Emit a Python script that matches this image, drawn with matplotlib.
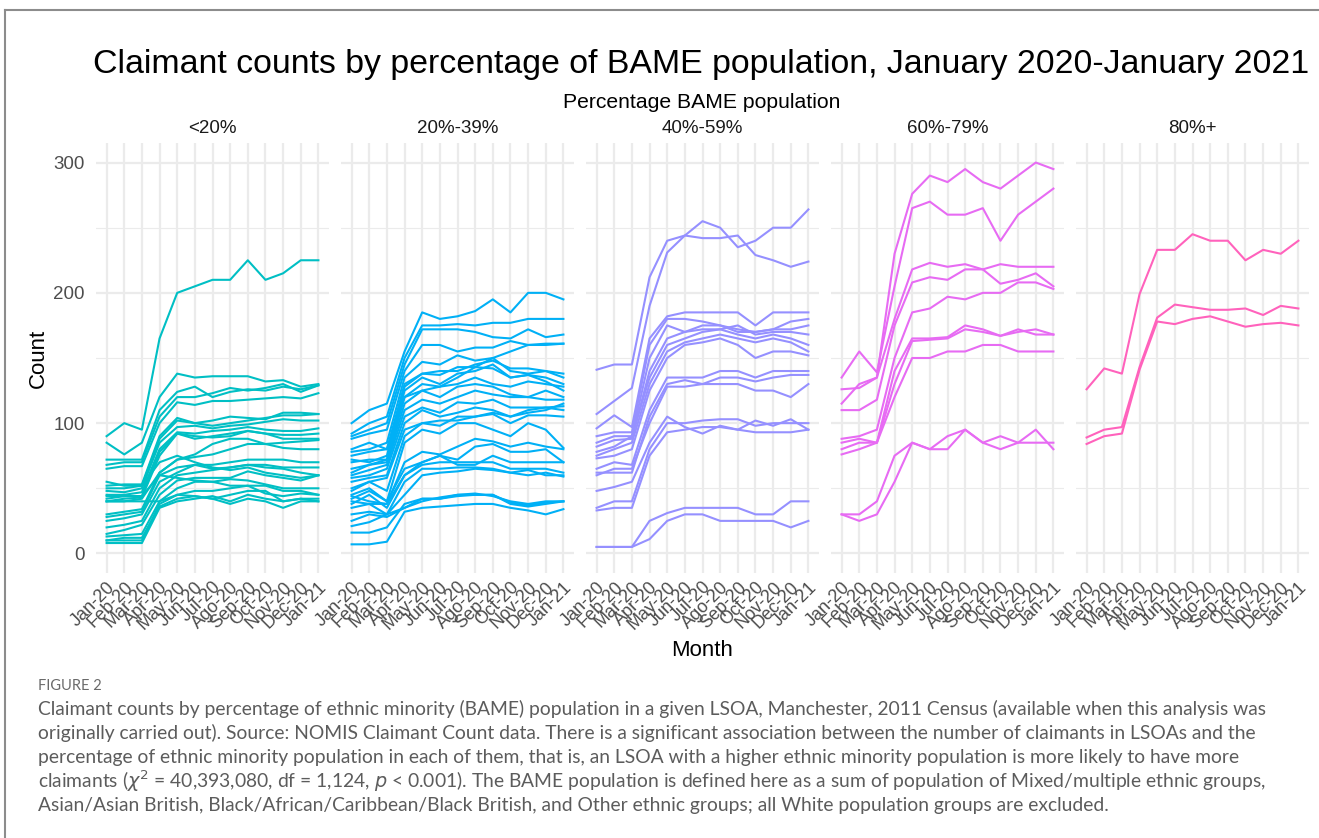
import matplotlib.pyplot as plt
from matplotlib.lines import Line2D

plt.rcParams["font.family"] = ["Liberation Sans", "DejaVu Sans"]

months = ["Jan-20", "Feb-20", "Mar-20", "Apr-20", "May-20", "Jun-20", "Jul-20",
          "Ago-20", "Sep-20", "Oct-20", "Nov-20", "Dec-20", "Jan-21"]
groups = ["<20%", "20%-39%", "40%-59%", "60%-79%", "80%+"]
colors = ["#00BFC4", "#00B0F6", "#9590FF", "#E76BF3", "#FF62BC"]

# claimant counts per LSOA, one list per LSOA, Jan-20 .. Jan-21
under20 = [
    [90, 100, 95, 165, 200, 205, 210, 210, 225, 210, 215, 225, 225],
    [85, 76, 85, 120, 138, 135, 136, 136, 136, 132, 133, 128, 130],
    [72, 72, 72, 110, 124, 128, 120, 124, 126, 125, 128, 126, 129],
    [68, 70, 70, 105, 120, 120, 123, 127, 125, 127, 130, 124, 129],
    [65, 67, 67, 100, 116, 114, 117, 117, 118, 119, 120, 119, 123],
    [52, 53, 53, 90, 104, 100, 102, 105, 104, 103, 108, 108, 107],
    [50, 50, 52, 88, 102, 100, 98, 100, 102, 104, 106, 106, 107],
    [48, 47, 50, 85, 97, 98, 96, 98, 99, 101, 103, 102, 102],
    [45, 45, 47, 80, 93, 92, 94, 95, 97, 95, 94, 94, 96],
    [42, 44, 44, 78, 92, 90, 89, 90, 94, 92, 91, 91, 92],
    [40, 42, 43, 75, 92, 88, 90, 92, 94, 92, 88, 88, 88],
    [40, 40, 42, 62, 72, 76, 84, 88, 88, 84, 81, 80, 80],
    [30, 32, 34, 62, 72, 74, 76, 80, 84, 84, 85, 86, 87],
    [28, 30, 32, 60, 66, 68, 68, 70, 72, 72, 72, 70, 70],
    [25, 27, 30, 55, 62, 68, 65, 66, 68, 68, 66, 66, 66],
    [20, 22, 25, 50, 60, 62, 64, 66, 68, 66, 65, 62, 60],
    [15, 18, 22, 45, 56, 58, 58, 58, 63, 60, 58, 56, 60],
    [13, 14, 15, 40, 50, 55, 55, 57, 56, 53, 50, 50, 50],
    [10, 10, 10, 38, 45, 48, 48, 50, 52, 46, 44, 46, 45],
    [8, 8, 8, 35, 40, 42, 44, 40, 45, 42, 40, 42, 42],
    [10, 12, 12, 36, 42, 44, 42, 45, 48, 48, 40, 42, 40],
    [40, 40, 40, 40, 45, 44, 42, 38, 42, 40, 35, 40, 40],
    [44, 44, 44, 60, 58, 56, 55, 52, 52, 52, 48, 48, 45],
    [55, 52, 52, 70, 75, 70, 66, 64, 66, 62, 60, 58, 60],
]

pct20_39 = [
    [100, 110, 115, 155, 185, 180, 182, 186, 195, 185, 200, 200, 195],
    [92, 100, 105, 150, 175, 175, 176, 175, 177, 177, 180, 180, 180],
    [90, 95, 100, 145, 172, 172, 172, 170, 166, 165, 172, 166, 168],
    [88, 92, 95, 140, 160, 160, 155, 158, 158, 163, 160, 161, 161],
    [80, 85, 80, 120, 125, 128, 135, 143, 150, 155, 160, 160, 161],
    [78, 80, 85, 135, 147, 145, 152, 148, 150, 140, 138, 140, 138],
    [75, 78, 80, 130, 138, 140, 140, 145, 148, 142, 142, 140, 135],
    [72, 70, 75, 128, 138, 137, 143, 143, 142, 135, 137, 135, 130],
    [70, 72, 72, 125, 135, 130, 138, 140, 145, 135, 137, 132, 125],
    [65, 68, 72, 120, 130, 128, 130, 135, 130, 128, 132, 130, 128],
    [62, 68, 70, 115, 125, 120, 128, 130, 128, 122, 120, 125, 120],
    [60, 64, 68, 110, 118, 115, 120, 125, 122, 120, 120, 118, 118],
    [58, 60, 65, 105, 112, 108, 116, 115, 118, 112, 112, 112, 110],
    [55, 58, 60, 100, 110, 105, 108, 112, 110, 105, 110, 112, 113],
    [50, 55, 58, 95, 100, 98, 105, 105, 108, 105, 108, 110, 115],
    [48, 55, 48, 90, 100, 102, 102, 105, 107, 100, 106, 106, 105],
    [45, 50, 40, 85, 95, 92, 100, 100, 95, 90, 100, 95, 81],
    [44, 40, 38, 70, 78, 76, 82, 88, 86, 82, 85, 82, 80],
    [42, 48, 40, 65, 70, 75, 72, 82, 84, 78, 78, 80, 70],
    [40, 38, 38, 60, 70, 75, 68, 68, 75, 70, 70, 70, 70],
    [38, 45, 35, 60, 68, 70, 70, 70, 70, 65, 65, 65, 62],
    [35, 38, 30, 55, 65, 65, 66, 66, 65, 62, 64, 60, 60],
    [30, 32, 30, 45, 60, 62, 63, 65, 64, 62, 60, 62, 59],
    [25, 30, 28, 35, 42, 42, 45, 45, 45, 38, 36, 38, 40],
    [21, 24, 30, 35, 40, 43, 45, 46, 44, 40, 38, 40, 40],
    [16, 16, 20, 38, 42, 42, 44, 45, 45, 39, 37, 39, 40],
    [7, 7, 9, 32, 35, 36, 37, 38, 38, 35, 33, 30, 34],
]

pct40_59 = [
    [107, 117, 127, 190, 231, 244, 255, 250, 235, 240, 250, 250, 264],
    [141, 145, 145, 212, 240, 244, 242, 242, 244, 229, 225, 220, 224],
    [96, 106, 97, 165, 182, 185, 185, 185, 185, 175, 185, 185, 185],
    [90, 93, 93, 160, 180, 180, 178, 175, 172, 170, 172, 178, 180],
    [85, 90, 90, 150, 175, 170, 175, 175, 170, 170, 172, 172, 175],
    [82, 87, 88, 140, 165, 170, 172, 172, 175, 168, 170, 170, 168],
    [78, 82, 90, 135, 160, 165, 170, 172, 168, 165, 168, 165, 160],
    [75, 80, 85, 130, 155, 162, 165, 168, 165, 162, 165, 162, 155],
    [73, 75, 80, 125, 150, 160, 162, 165, 160, 150, 155, 155, 152],
    [65, 70, 68, 110, 135, 135, 135, 140, 140, 135, 140, 140, 140],
    [62, 62, 62, 105, 130, 133, 130, 135, 135, 132, 135, 137, 137],
    [60, 65, 65, 100, 128, 128, 130, 130, 130, 125, 125, 120, 130],
    [48, 51, 55, 85, 105, 97, 92, 98, 95, 102, 98, 103, 95],
    [35, 40, 40, 80, 100, 100, 102, 103, 103, 98, 100, 100, 100],
    [33, 35, 35, 75, 93, 95, 97, 97, 95, 93, 93, 93, 95],
    [5, 5, 5, 25, 31, 35, 35, 35, 35, 30, 30, 40, 40],
    [5, 5, 5, 11, 25, 30, 30, 25, 25, 25, 25, 20, 25],
]

pct60_79 = [
    [126, 127, 135, 230, 276, 290, 285, 295, 285, 280, 290, 300, 295],
    [135, 155, 139, 205, 265, 270, 260, 260, 265, 240, 260, 270, 280],
    [115, 130, 135, 180, 218, 223, 220, 222, 218, 222, 220, 220, 220],
    [110, 110, 118, 175, 208, 212, 210, 218, 218, 207, 210, 215, 205],
    [88, 90, 95, 150, 185, 188, 197, 195, 200, 200, 208, 208, 203],
    [85, 88, 85, 140, 165, 165, 166, 175, 172, 167, 170, 172, 168],
    [80, 85, 85, 130, 163, 164, 165, 172, 170, 167, 172, 168, 168],
    [76, 80, 85, 120, 150, 150, 155, 155, 160, 160, 155, 155, 155],
    [30, 30, 40, 75, 85, 80, 80, 95, 85, 80, 85, 95, 80],
    [30, 25, 30, 55, 85, 80, 90, 95, 85, 90, 85, 85, 85],
]

pct80_plus = [
    [126, 142, 138, 199, 233, 233, 245, 240, 240, 225, 233, 230, 240],
    [89, 95, 97, 143, 181, 191, 189, 187, 187, 188, 183, 190, 188],
    [84, 90, 92, 141, 178, 176, 180, 182, 178, 174, 176, 177, 175],
]

series = [under20, pct20_39, pct40_59, pct60_79, pct80_plus]

W, H = 1319, 838
fig = plt.figure(figsize=(W / 100, H / 100), dpi=100)

lefts = [96, 341, 586, 831, 1076]
pw = 233
top_px, bot_px = 143, 573
GRID = "#EBEBEB"
TXT = "#4D4D4D"

for i, (grp, col, data) in enumerate(zip(groups, colors, series)):
    ax = fig.add_axes([lefts[i] / W, 1 - bot_px / H, pw / W, (bot_px - top_px) / H])
    xs = list(range(len(months)))
    for row in data:
        ax.plot(xs, row, color=col, lw=1.5, zorder=3)
    ax.set_xlim(-0.6, len(months) - 0.4)
    ax.set_ylim(-15, 315)
    ax.set_xticks(xs)
    ax.set_xticklabels(months, rotation=45, ha="right", rotation_mode="anchor",
                       fontsize=13, color=TXT)
    ax.set_yticks([0, 100, 200, 300])
    ax.set_yticks([50, 150, 250], minor=True)
    ax.grid(which="major", color=GRID, lw=1.6)
    ax.grid(which="minor", axis="y", color=GRID, lw=0.8)
    ax.set_axisbelow(True)
    for s in ax.spines.values():
        s.set_visible(False)
    ax.tick_params(which="both", length=0, pad=4)
    if i == 0:
        ax.tick_params(axis="y", labelsize=13.5, labelcolor=TXT, pad=8)
    else:
        ax.set_yticklabels([])
    fig.text((lefts[i] + pw / 2) / W, 1 - 128 / H, grp, ha="center", va="center",
             fontsize=13.5, color="#1A1A1A")

fig.text(701 / W, 1 - 73 / H,
         "Claimant counts by percentage of BAME population, January 2020-January 2021",
         ha="center", va="baseline", fontsize=24.4)
fig.text(702 / W, 1 - 103 / H, "Percentage BAME population", ha="center",
         va="center", fontsize=15.2)
fig.text(38 / W, 1 - 358 / H, "Count", rotation=90, ha="center", va="center",
         fontsize=16)
fig.text(702 / W, 1 - 650 / H, "Month", ha="center", va="center", fontsize=16)

# caption block
CAP = "#5C5C5C"
fig.text(38 / W, 1 - 686 / H, "FIGURE 2", ha="left", va="center", fontsize=10.5,
         color="#6A6A6A", family="Lato")
cap_lines = [
    "Claimant counts by percentage of ethnic minority (BAME) population in a given LSOA, "
    "Manchester, 2011 Census (available when this analysis was",
    "originally carried out). Source: NOMIS Claimant Count data. There is a significant "
    "association between the number of claimants in LSOAs and the",
    "percentage of ethnic minority population in each of them, that is, an LSOA with a "
    "higher ethnic minority population is more likely to have more",
    r"claimants ($\chi^2$ = 40,393,080, df = 1,124, $p$ < 0.001). The BAME population is "
    "defined here as a sum of population of Mixed/multiple ethnic groups,",
    "Asian/Asian British, Black/African/Caribbean/Black British, and Other ethnic groups; "
    "all White population groups are excluded.",
]
for k, line in enumerate(cap_lines):
    fig.text(38 / W, 1 - (709 + 24 * k) / H, line, ha="left", va="center",
             fontsize=13.85, color=CAP, family="Lato")

# frame of the figure panel
fig.add_artist(Line2D([5 / W, 5 / W], [0, 1 - 10 / H], color="#8C8C8C", lw=1.5))
fig.add_artist(Line2D([5 / W, 1], [1 - 10 / H, 1 - 10 / H], color="#8C8C8C", lw=1.5))

fig.savefig("out.png", dpi=100)
